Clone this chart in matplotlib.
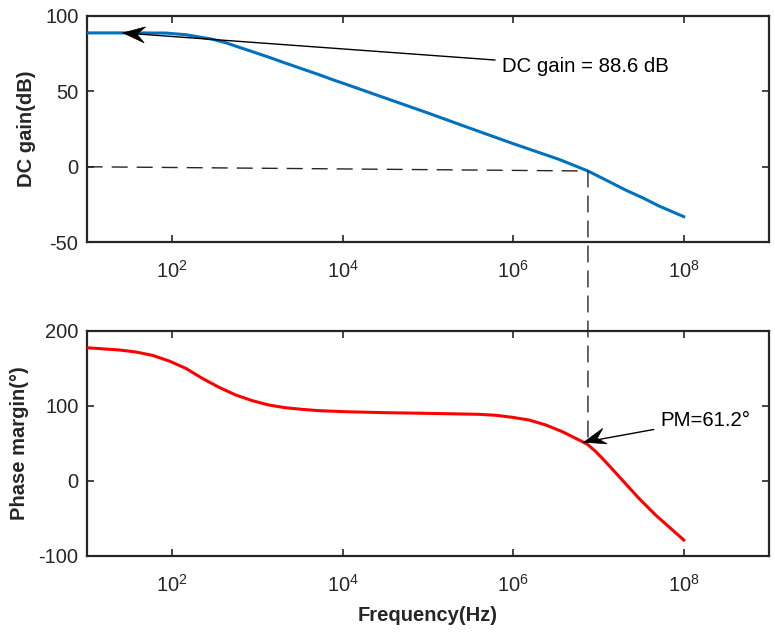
import matplotlib
matplotlib.use('Agg')
import numpy as np
import matplotlib.pyplot as plt
from matplotlib.ticker import NullLocator, FixedLocator
from matplotlib.patches import ConnectionPatch, Polygon
from matplotlib.transforms import IdentityTransform

plt.rcParams['font.family'] = ['Liberation Sans', 'DejaVu Sans']
plt.rcParams['mathtext.fontset'] = 'custom'
plt.rcParams['mathtext.rm'] = 'Liberation Sans'
plt.rcParams['mathtext.it'] = 'Liberation Sans:italic'
plt.rcParams['mathtext.bf'] = 'Liberation Sans:bold'
plt.rcParams['axes.unicode_minus'] = False

# ---------------- data ----------------
gain_freq = [10, 31.6, 84.7, 145, 208, 298, 427, 611, 875, 1368, 2143, 3357, 5260,
             8240, 1e4, 3.16e4, 1e5, 3.16e5, 1e6, 3.45e6, 7.53e6, 1.33e7, 2.08e7,
             3.26e7, 5.1e7, 1e8]
gain_db = [88.6, 88.6, 88.5, 87.4, 85.9, 84.4, 82.1, 79.1, 76.2, 72.5, 68.6, 64.8, 61.0,
           57.0, 55.4, 45.5, 35.6, 25.4, 15.3, 4.9, -2.8, -9.8, -15.4,
           -20.4, -25.9, -33.0]

phase_freq = [10, 24.1, 37.8, 59.1, 92.7, 145, 227, 356, 558, 875, 1368, 2143, 3357,
              5260, 1.07e4, 3.16e4, 1e5, 4.0e5, 6.27e5, 9.8e5, 1.54e6, 2.41e6, 3.78e6,
              5.91e6, 7.4e6, 9.27e6, 1.21e7, 1.9e7, 2.98e7, 4.67e7, 1e8]
phase_deg = [177.3, 174.3, 171.6, 167.1, 159.6, 149.8, 136.4, 124.5, 114.3, 106.7,
             100.9, 97.3, 95.1, 93.4, 92.0, 90.7, 89.8, 88.5, 87.2, 84.5, 80.9, 74.3,
             65.3, 54.3, 48.6, 39.0, 25.3, 0.9, -23.5, -45.7, -79.1]

crossover_freq = 7.53e6
crossover_gain = -2.8
crossover_phase = 48.3

dc_arrow_freq = 26.6
dc_gain_value = 88.6
pm_arrow_freq = 6.73e6
pm_arrow_phase = 51.3

x_ticks = [1e2, 1e4, 1e6, 1e8]
gain_ticks = [-50, 0, 50, 100]
phase_ticks = [-100, 0, 100, 200]

# ---------------- figure ----------------
fig = plt.figure(figsize=(7.75, 6.35), dpi=100)
ax1 = fig.add_axes([0.1119, 0.6184, 0.8804, 0.3569])
ax2 = fig.add_axes([0.1119, 0.1249, 0.8804, 0.3543])

spine_c = '#262626'
for ax in (ax1, ax2):
    ax.set_xscale('log')
    ax.set_xlim(10, 1e9)
    ax.xaxis.set_major_locator(FixedLocator(x_ticks))
    ax.xaxis.set_minor_locator(NullLocator())
    ax.tick_params(direction='in', top=True, right=True, length=5, width=1.2,
                   labelsize=14.5, colors=spine_c, labelcolor='#262626')
    ax.tick_params(axis='y', pad=6)
    ax.tick_params(axis='x', pad=13)
    for s in ax.spines.values():
        s.set_linewidth(1.6)
        s.set_color(spine_c)

ax1.plot(gain_freq, gain_db, color='#0072BD', lw=2.2, zorder=3)
ax1.set_ylim(-50, 100)
ax1.set_yticks(gain_ticks)

ax2.plot(phase_freq, phase_deg, color='#FF0000', lw=2.2, zorder=3)
ax2.set_ylim(-100, 200)
ax2.set_yticks(phase_ticks)

ax1.set_ylabel('DC gain(dB)', fontsize=14.5, fontweight='bold', color='#262626')
ax2.set_ylabel('Phase margin(°)', fontsize=14.5, fontweight='bold', color='#262626')
ax2.set_xlabel('Frequency(Hz)', fontsize=14.5, fontweight='bold', color='#262626')
ax1.yaxis.label.set_verticalalignment('center')
ax2.yaxis.label.set_verticalalignment('center')
ax2.xaxis.label.set_verticalalignment('center')
ax1.yaxis.set_label_coords(-0.088, 0.5)
ax2.yaxis.set_label_coords(-0.098, 0.5)
ax2.xaxis.set_label_coords(0.5, -0.268)

dash = (0, (11.5, 6.5))
# horizontal dashed line to crossover
ax1.plot([gain_freq[0], crossover_freq], [0, crossover_gain], color='#262626',
         lw=1.0, linestyle=dash, zorder=2)
# vertical dashed line connecting both axes
con = ConnectionPatch(xyA=(crossover_freq, crossover_gain), coordsA=ax1.transData,
                      xyB=(crossover_freq, crossover_phase), coordsB=ax2.transData,
                      color='#262626', lw=1.0, linestyle=dash, zorder=2)
fig.add_artist(con)

line_props = dict(arrowstyle='-', color='black', lw=1.0, shrinkA=3, shrinkB=0)
ax1.annotate('DC gain = 88.6 dB', xy=(dc_arrow_freq, dc_gain_value),
             xytext=(7.4e5, 66.3), ha='left', va='center', fontsize=14.7,
             color='black', arrowprops=line_props, zorder=4)
ax2.annotate('PM=61.2°', xy=(pm_arrow_freq, pm_arrow_phase),
             xytext=(5.36e7, 80.9), ha='left', va='center', fontsize=14.7,
             color='black', arrowprops=line_props, zorder=4)


def dart_head(ax, tip_xy, from_xy, length=22.0, half_width=8.0, notch=8.0):
    tip = ax.transData.transform(tip_xy)
    frm = ax.transData.transform(from_xy)
    u = tip - frm
    u = u / np.hypot(*u)
    n = np.array([-u[1], u[0]])
    pts = [tip,
           tip - length * u + half_width * n,
           tip - (length - notch) * u,
           tip - length * u - half_width * n]
    poly = Polygon(pts, closed=True, facecolor='black', edgecolor='black', lw=0.5,
                   transform=IdentityTransform(), clip_on=False, zorder=5)
    fig.add_artist(poly)


dart_head(ax1, (dc_arrow_freq, dc_gain_value), (7.4e5, 66.3))
dart_head(ax2, (pm_arrow_freq, pm_arrow_phase), (5.36e7, 80.9))

fig.savefig('out.png', dpi=100)
